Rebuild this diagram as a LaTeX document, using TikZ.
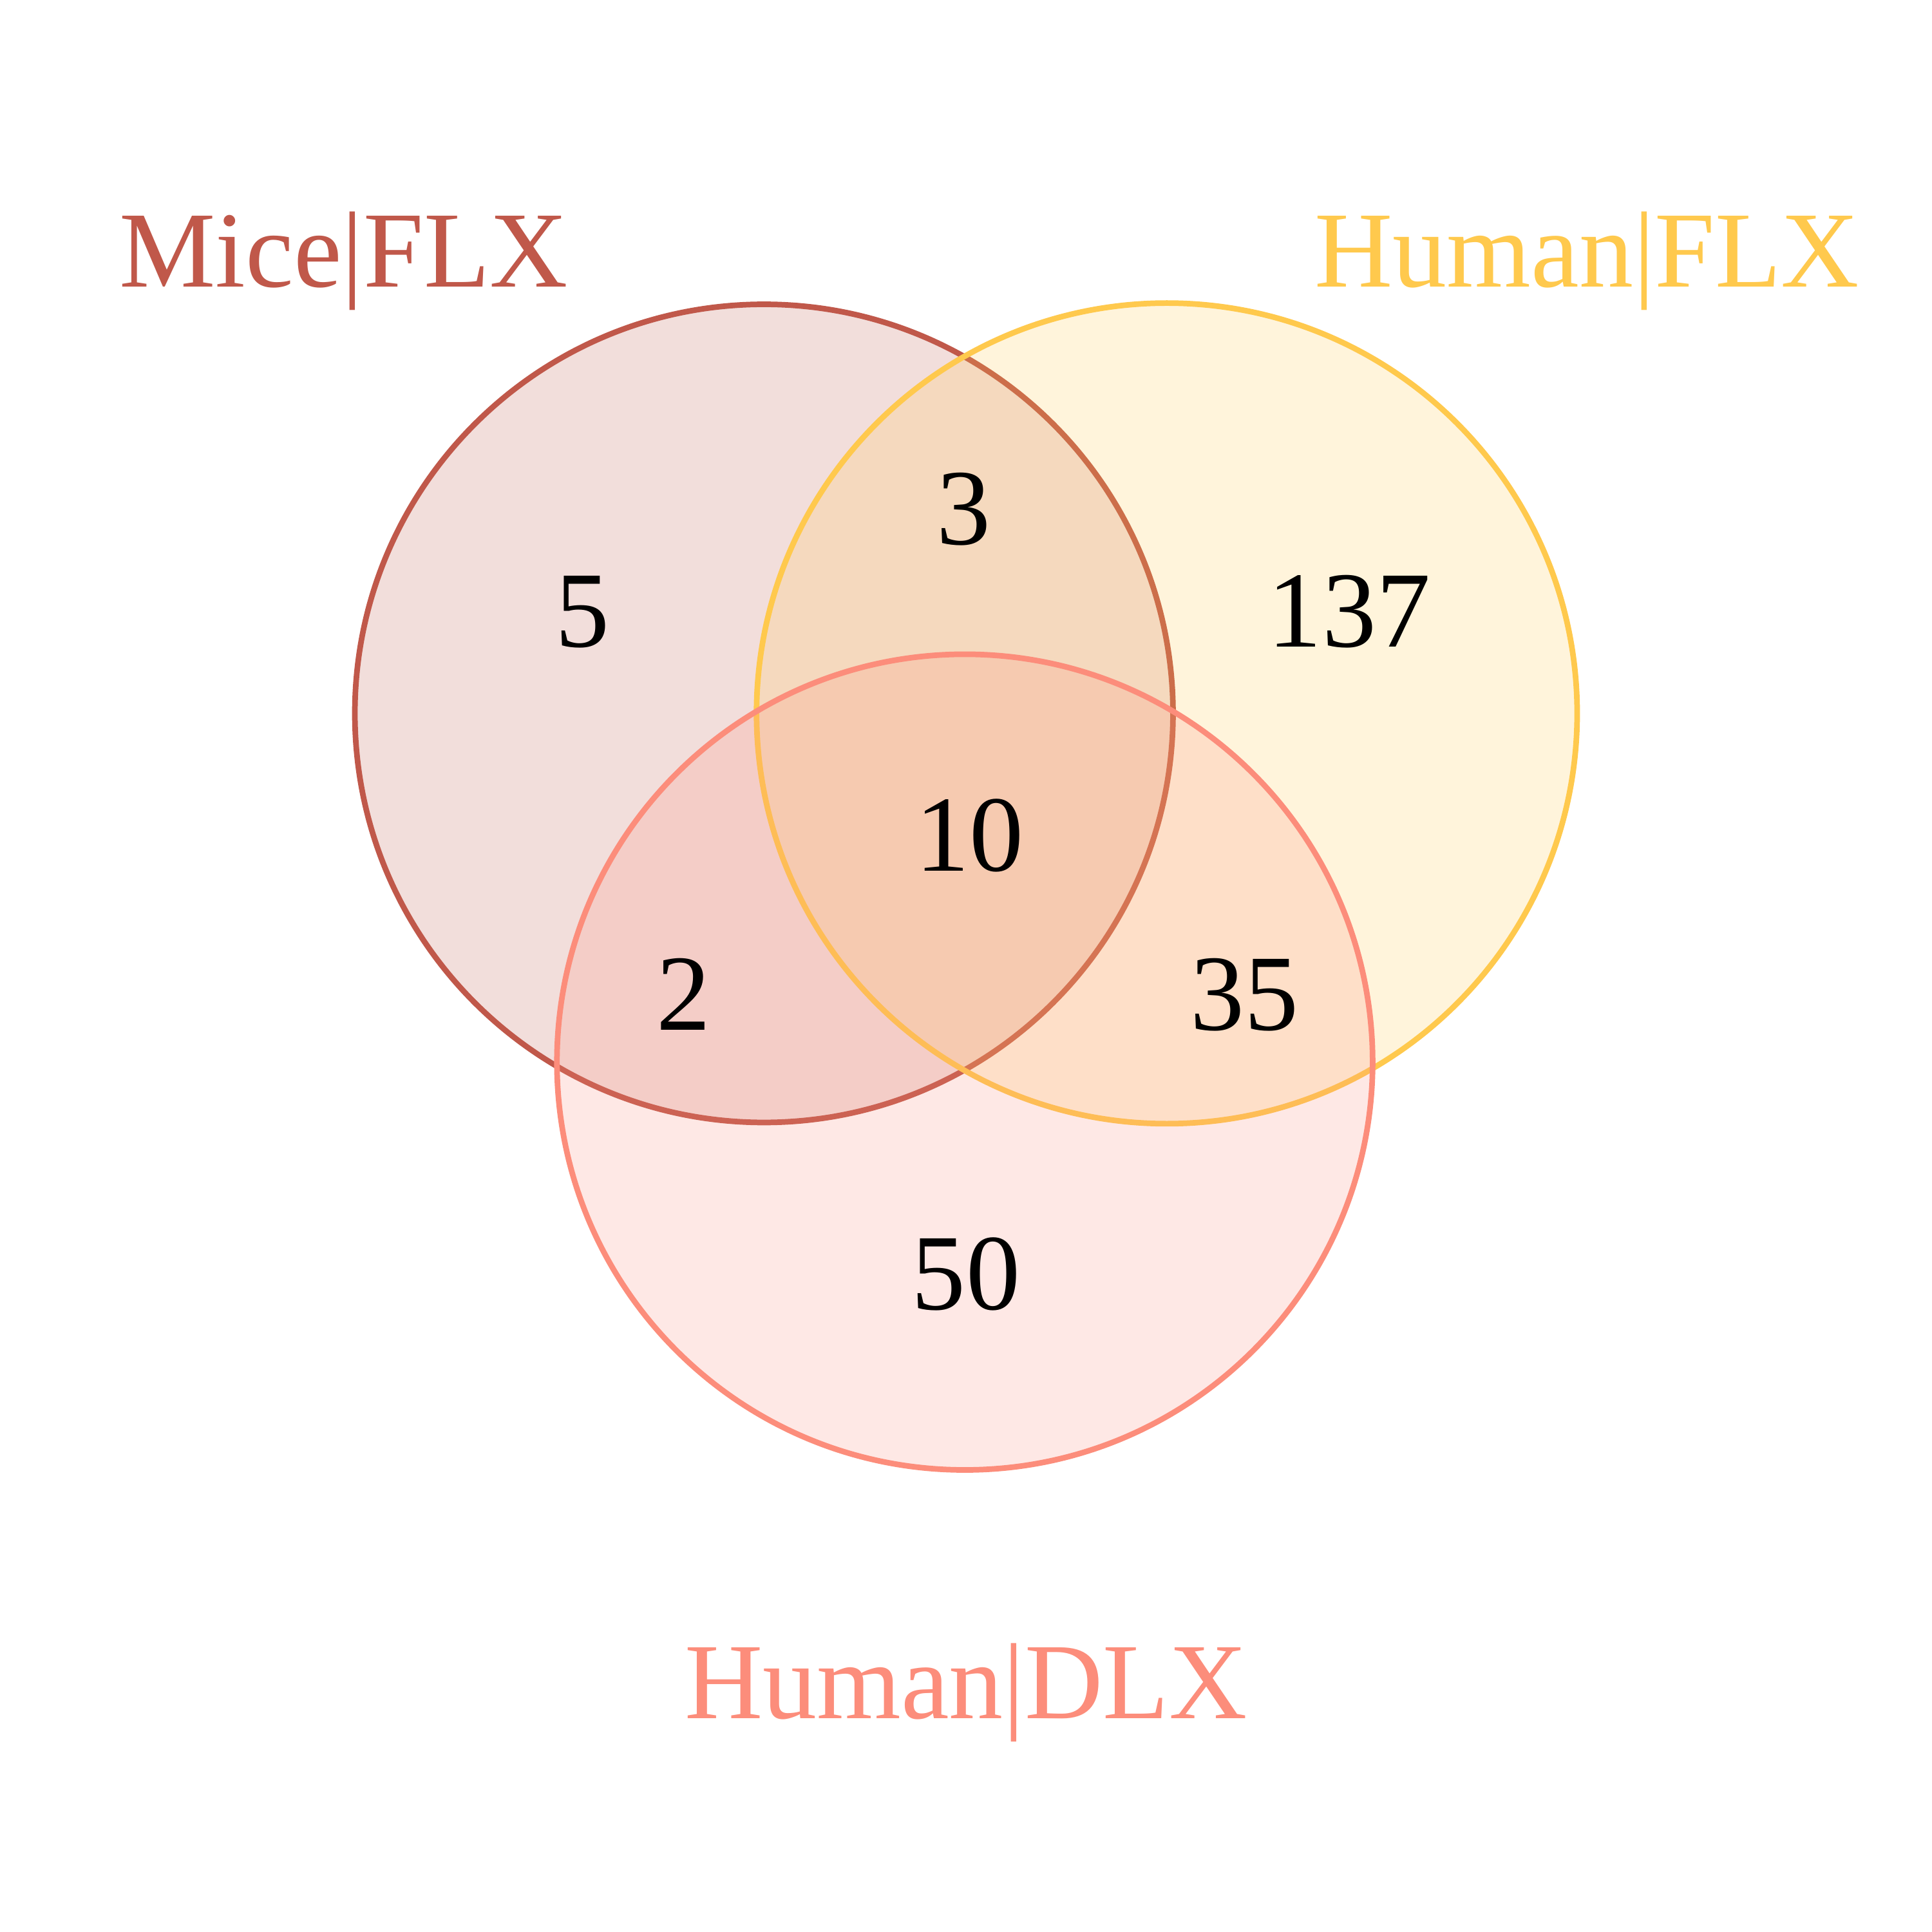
\documentclass[tikz,border=0pt]{standalone}
\usepackage{fontspec}
\setmainfont{Liberation Serif}
\definecolor{miceC}{HTML}{C0584A}
\definecolor{hflxC}{HTML}{FFC94D}
\definecolor{hdlxC}{HTML}{FC8D7B}
\begin{document}
\begin{tikzpicture}[
  set/.style = {line width=1.3pt, fill opacity=0.2},
  cnt/.style = {anchor=base, font=\fontsize{25}{30}\selectfont, text=black},
  lbl/.style = {anchor=base, font=\fontsize{25}{30}\selectfont}]
\useasboundingbox (0,0) rectangle (15.68,15.68);
% set centres
\coordinate (mice) at (6.20,9.89);
\coordinate (hflx) at (9.47,9.89);
\coordinate (hdlx) at (7.83,7.06);
\draw[set, draw=miceC, fill=miceC] (mice) circle (3.32);
\draw[set, draw=hflxC, fill=hflxC] (hflx) circle (3.33);
\draw[set, draw=hdlxC, fill=hdlxC] (hdlx) circle (3.31);
% set names
\draw (2.79,13.35) node[lbl, text=miceC] (miceL) {Mice|FLX};
\draw (12.88,13.35) node[lbl, text=hflxC] (hflxL) {Human|FLX};
\draw (7.84,1.73) node[lbl, text=hdlxC] (hdlxL) {Human|DLX};
% region counts
\draw (4.73,10.43) node[cnt] (onlyM) {5};
\draw (7.82,11.26) node[cnt] (mH) {3};
\draw (10.95,10.43) node[cnt] (onlyH) {137};
\draw (7.87,8.61) node[cnt] (all) {10};
\draw (5.55,7.32) node[cnt] (mD) {2};
\draw (10.10,7.32) node[cnt] (hD) {35};
\draw (7.84,5.05) node[cnt] (onlyD) {50};
\end{tikzpicture}
\end{document}
